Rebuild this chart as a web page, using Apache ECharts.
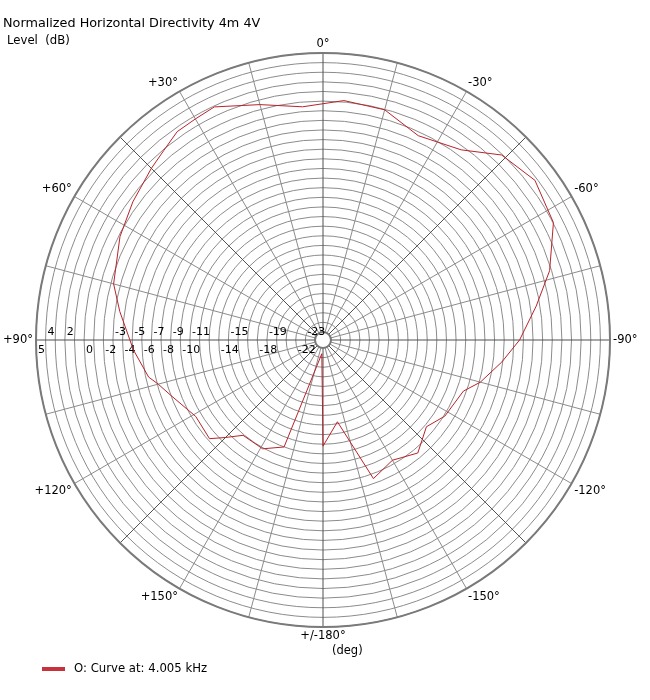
<!DOCTYPE html>
<html>
<head>
<meta charset="utf-8">
<script src="https://cdn.jsdelivr.net/npm/echarts@6/dist/echarts.min.js"></script>
<style>
html,body{margin:0;padding:0;background:#fff;}
#chart{width:650px;height:700px;}
</style>
</head>
<body>
<div id="chart"></div>
<script>
// Angles (deg, + = left / counter-clockwise from front) and normalized levels (dB)
const angles = [-180,-170,-160,-150,-140,-130,-122,-110,-105,-97,-90,-81,-73,-63,-53,-44,-36,-25,-15,-5,5,15,25,30,35,40,45,54,63,75,82,93,102,105,110,121,131,135,140,151,160,175,180];
const levels = [-13.8,-16.2,-9.5,-10.4,-9.5,-10.8,-9.9,-9.3,-7.9,-6.1,-4.4,-2.4,-0.2,2.05,2.75,1.9,-0.4,-1.4,-0.06,0.15,-0.5,0.5,1.9,1.7,1.6,0.9,0.4,-0.4,-1.15,-2.3,-3.5,-5.1,-6.3,-7.1,-8.0,-9.4,-9.2,-10.5,-11.9,-11.9,-13.0,-23.4,-13.8];
// Radial tick labels, split in the two rows shown on the chart
const upperRowTicks = [4, 2, -3, -5, -7, -9, -11, -15, -19, -23];
const lowerRowTicks = [5, 0, -2, -4, -6, -8, -10, -14, -18, -22];
const levelMin = -24, levelMax = 5;
const seriesName = 'O: Curve at: 4.005 kHz';

const FONT = 'DejaVu Sans';
const CENTER = [323, 340];
const RADIUS = [8, 287];

const chart = echarts.init(document.getElementById('chart'));
const data = angles.map((a, i) => [levels[i], a]);

function angleLabel(v) {
  if (v === 0) return '0°';
  if (v === -180 || v === 180) return '+/-180°';
  return (v > 0 ? '+' : '') + v + '°';
}

const hiddenAngle = (idx) => ({
  polarIndex: idx, type: 'value', min: -180, max: 180, startAngle: 180, clockwise: false,
  axisLine: {show: false}, axisTick: {show: false}, axisLabel: {show: false}, splitLine: {show: false}
});
const labelRadius = (idx, set, vAlign, margin) => ({
  polarIndex: idx, type: 'value', min: levelMin, max: levelMax, interval: 1,
  axisLine: {show: false}, axisTick: {show: false}, splitLine: {show: false},
  axisLabel: {
    show: true, margin: margin, align: 'left', verticalAlign: vAlign,
    padding: [0, 0, 0, 2],
    fontFamily: FONT, fontSize: 11, color: '#000',
    showMinLabel: true, showMaxLabel: true, hideOverlap: false,
    formatter: v => set.indexOf(v) >= 0 ? String(v) : ''
  }
});

chart.setOption({
  backgroundColor: '#fff',
  animation: false,
  title: [
    {text: 'Normalized Horizontal Directivity 4m 4V', left: -2, top: 12,
     textStyle: {fontFamily: FONT, fontSize: 12.8, fontWeight: 'normal', color: '#000'}},
    {text: 'Level  (dB)', left: 2, top: 30,
     textStyle: {fontFamily: FONT, fontSize: 11.7, fontWeight: 'normal', color: '#000'}},
    {text: '(deg)', left: 327, top: 640,
     textStyle: {fontFamily: FONT, fontSize: 11.5, fontWeight: 'normal', color: '#000'}}
  ],
  legend: {
    left: 37, top: 658, icon: 'rect', itemWidth: 23, itemHeight: 4,
    textStyle: {fontFamily: FONT, fontSize: 11.7, color: '#000', padding: [0, 0, 0, 4]},
    data: [{name: seriesName, itemStyle: {color: '#c8323c'}}]
  },
  polar: [
    {center: CENTER, radius: RADIUS},
    {center: CENTER, radius: RADIUS},
    {center: CENTER, radius: RADIUS}
  ],
  angleAxis: [
    {
      polarIndex: 0, type: 'value', min: -180, max: 180, interval: 15,
      startAngle: 270, clockwise: false,
      axisLine: {show: true, lineStyle: {color: '#7a7a7a', width: 2}},
      axisTick: {show: false},
      axisLabel: {
        show: true, margin: 3, fontFamily: FONT, fontSize: 11.5, color: '#000',
        formatter: v => (v % 30 === 0) ? angleLabel(v) : ''
      },
      splitLine: {show: true, lineStyle: {color: ['#505050', '#8c8c8c', '#8c8c8c'], width: 1}}
    },
    hiddenAngle(1),
    hiddenAngle(2)
  ],
  radiusAxis: [
    {
      polarIndex: 0, type: 'value', min: levelMin, max: levelMax, interval: 1,
      axisLine: {show: false}, axisTick: {show: false}, axisLabel: {show: false},
      splitLine: {show: true, lineStyle: {color: '#8c8c8c', width: 1}}
    },
    labelRadius(1, upperRowTicks, 'bottom', -2),
    labelRadius(2, lowerRowTicks, 'top', 5)
  ],
  series: [{
    name: seriesName, type: 'line', coordinateSystem: 'polar', polarIndex: 0,
    data: data, showSymbol: false, symbol: 'none', smooth: false,
    lineStyle: {color: '#b8232b', width: 1}, itemStyle: {color: '#c8323c'}
  }]
});
</script>
</body>
</html>
